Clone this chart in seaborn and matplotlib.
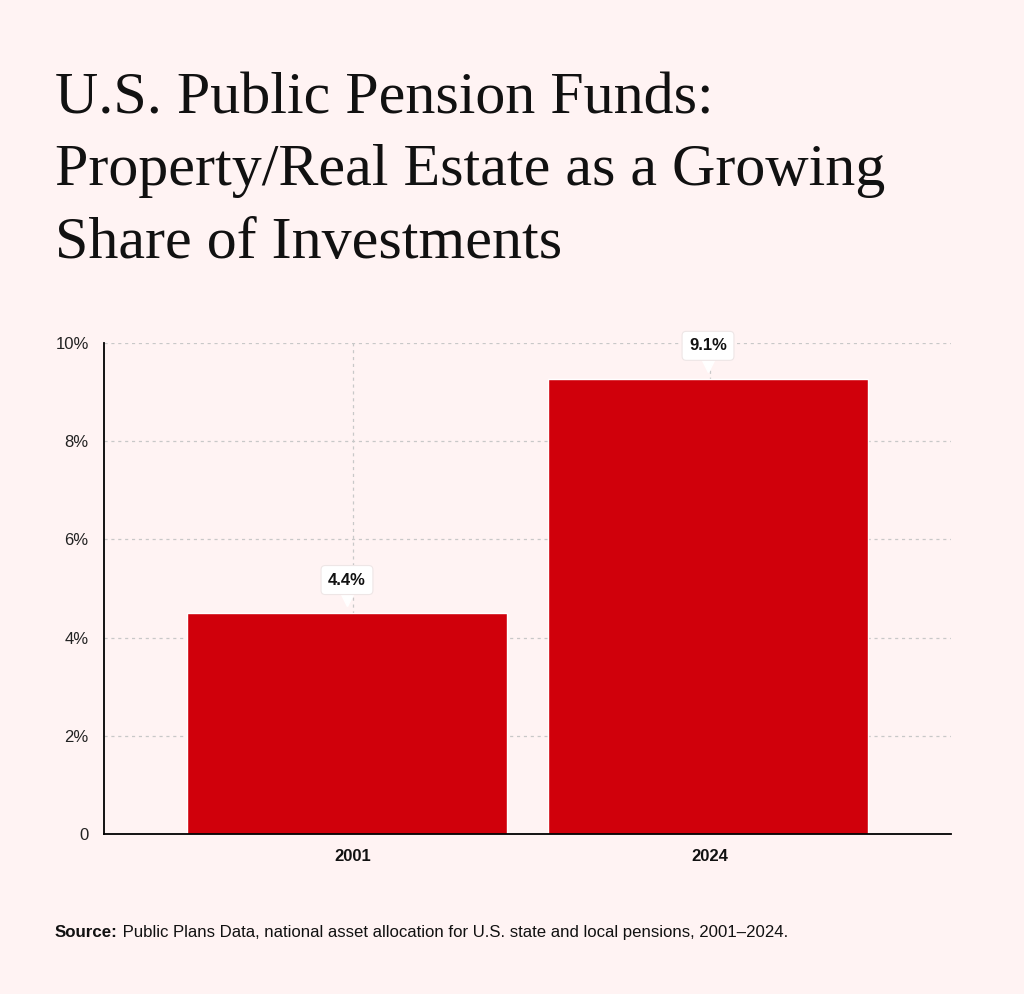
import matplotlib
matplotlib.use("Agg")
import matplotlib.pyplot as plt
import matplotlib.transforms as mtransforms
import pandas as pd
import seaborn as sns

# valores (alturas de barra) y sus etiquetas
years = ["2001", "2024"]
share = [4.5, 9.27]
share_labels = ["4.4%", "9.1%"]
yticks = [0, 2, 4, 6, 8, 10]
ytick_labels = ["0", "2%", "4%", "6%", "8%", "10%"]

title_lines = ["U.S. Public Pension Funds:",
               "Property/Real Estate as a Growing",
               "Share of Investments"]
source_text = " Public Plans Data, national asset allocation for U.S. state and local pensions, 2001\u20132024."

BG = "#FFF3F3"
RED = "#D0000B"
GRID = "#C8C8C8"

sns.set_theme(style="white")
plt.rcParams["font.family"] = ["Liberation Sans", "DejaVu Sans"]

df = pd.DataFrame({"year": years, "share": share})

fig = plt.figure(figsize=(10.24, 9.94), dpi=100, facecolor=BG)
ax = fig.add_axes([104 / 1024, 1 - 834 / 994, (951 - 104) / 1024, (834 - 343) / 994])
ax.set_facecolor(BG)

sns.barplot(data=df, x="year", y="share", color=RED, width=0.886,
            saturation=1, ax=ax, zorder=2)

ax.set_ylim(0, 10)
ax.set_xlim(-0.673, 1.673)
# las marcas del eje x quedan un poco a la derecha del centro de la barra
ax.set_xticks([0.016, 1.005])
ax.set_xticklabels(years)
ax.set_yticks(yticks)
ax.set_yticklabels(ytick_labels, fontsize=12, color="#222222")
ax.set_xlabel("")
ax.set_ylabel("")
for lbl in ax.get_xticklabels():
    lbl.set_fontweight("bold")
    lbl.set_fontsize(12)
    lbl.set_color("#111111")

ax.grid(True, axis="both", color=GRID, linestyle=(0, (2.5, 3)), linewidth=0.9, zorder=0)
ax.set_axisbelow(True)
sns.despine(ax=ax, top=True, right=True)
ax.spines["left"].set_color("black")
ax.spines["bottom"].set_color("black")
ax.spines["left"].set_linewidth(1.3)
ax.spines["bottom"].set_linewidth(1.3)
ax.tick_params(axis="y", length=0, pad=11)
ax.tick_params(axis="x", length=6, width=1, color="black", direction="out", pad=5)

# etiquetas tipo "tooltip" encima de cada barra
for i, (v, lab) in enumerate(zip(share, share_labels)):
    tri = mtransforms.offset_copy(ax.transData, fig=fig, x=0, y=15, units="dots")
    ax.plot([i], [v], marker="v", markersize=11, color="white", transform=tri,
            zorder=5, clip_on=False)
    ax.annotate(lab, xy=(i, v), xytext=(0, 33), textcoords="offset pixels",
                ha="center", va="center", fontsize=12, fontweight="bold",
                color="#111111", zorder=6,
                bbox=dict(boxstyle="round,pad=0.42,rounding_size=0.25",
                          fc="white", ec="#EEE6E6", lw=0.8))

# titulo
for k, line in enumerate(title_lines):
    fig.text(55 / 1024, 1 - (113 + 72.5 * k) / 994, line, fontsize=43.2,
             family=["Liberation Serif", "DejaVu Serif"], color="#111111",
             va="baseline", ha="left")

# fuente
t1 = fig.text(55 / 1024, 1 - 937 / 994, "Source:", fontsize=12.2, fontweight="bold",
              color="#111111", va="baseline", ha="left")
fig.canvas.draw()
bb = t1.get_window_extent()
fig.text(bb.x1 / 1024, 1 - 937 / 994, source_text, fontsize=12.1, color="#111111",
         va="baseline", ha="left")

fig.savefig("out.png", dpi=100, facecolor=BG)
